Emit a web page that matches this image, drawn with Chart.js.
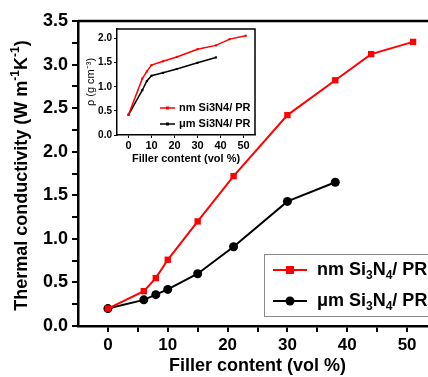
<!DOCTYPE html>
<html><head><meta charset="utf-8">
<script src="https://cdn.jsdelivr.net/npm/chart.js@4.4.0/dist/chart.umd.min.js"></script>
<style>
html,body{margin:0;padding:0;background:#fff;}
#wrap{position:relative;width:428px;height:377px;overflow:hidden;}
#main{position:absolute;left:0;top:0;}
#inset{position:absolute;left:84px;top:20px;}
</style></head>
<body>
<div id="wrap">
<canvas id="main" width="442" height="377"></canvas>
<canvas id="inset" width="176" height="146"></canvas>
</div>
<script>
// ---- data ----
const fillerNm = [0, 6, 8, 10, 15, 21, 30, 38, 44, 51];
const fillerUm = [0, 6, 8, 10, 15, 21, 30, 38];
const kNm = [0.20, 0.40, 0.55, 0.76, 1.20, 1.72, 2.42, 2.82, 3.12, 3.26];
const kUm = [0.20, 0.30, 0.36, 0.42, 0.60, 0.91, 1.43, 1.65];
const rhoNm = [0.42, 1.17, 1.32, 1.45, 1.53, 1.62, 1.78, 1.86, 1.99, 2.06];
const rhoUm = [0.42, 0.93, 1.12, 1.23, 1.29, 1.37, 1.50, 1.61];
const seriesNames = ['nm Si₃N₄/ PR', 'μm Si₃N₄/ PR'];
const xTickLabels = [0, 10, 20, 30, 40, 50];
const yTickLabels = [0, 0.5, 1.0, 1.5, 2.0, 2.5, 3.0, 3.5];
const insetYTicks = [0, 0.5, 1.0, 1.5, 2.0];

const pts = (xs, ys) => xs.map((x, i) => ({x: x, y: ys[i]}));
const F = 'Arial, "Liberation Sans", sans-serif';

function drawSubText(ctx, x, y, parts, size) {
  let cx = x;
  parts.forEach(([t, sub]) => {
    ctx.font = 'bold ' + (sub ? Math.round(size * 0.65) : size) + 'px ' + F;
    ctx.fillText(t, cx, sub ? y + size * 0.3 : y);
    cx += ctx.measureText(t).width;
  });
}

const mainPlugin = {
  id: 'mainDeco',
  afterDraw(chart) {
    const ctx = chart.ctx, a = chart.chartArea;
    ctx.save();
    ctx.strokeStyle = '#000'; ctx.lineWidth = 2.5;
    ctx.beginPath();
    ctx.moveTo(a.left, a.top); ctx.lineTo(a.right, a.top); ctx.lineTo(a.right, a.bottom);
    ctx.stroke();
    // y title with superscripts
    ctx.translate(22, (a.top + a.bottom) / 2 + 2);
    ctx.rotate(-Math.PI / 2);
    ctx.fillStyle = '#000'; ctx.textBaseline = 'middle';
    const parts = [['Thermal conductivity (W m', 0], ['-1', 1], ['K', 0], ['-1', 1], [')', 0]];
    let w = 0;
    parts.forEach(([t, s]) => { ctx.font = 'bold ' + (s ? 12 : 18) + 'px ' + F; w += ctx.measureText(t).width; });
    let cx = -w / 2;
    parts.forEach(([t, s]) => {
      ctx.font = 'bold ' + (s ? 12 : 18) + 'px ' + F;
      ctx.fillText(t, cx, s ? -6 : 0);
      cx += ctx.measureText(t).width;
    });
    ctx.restore();
    // legend
    ctx.save();
    ctx.strokeStyle = '#8a8a8a'; ctx.lineWidth = 1;
    ctx.strokeRect(264.5, 254.5, 200, 62);
    const rows = [{y: 270, ds: chart.data.datasets[0]}, {y: 301, ds: chart.data.datasets[1]}];
    rows.forEach((r, i) => {
      ctx.strokeStyle = r.ds.borderColor; ctx.lineWidth = 2;
      ctx.beginPath(); ctx.moveTo(273, r.y); ctx.lineTo(307, r.y); ctx.stroke();
      ctx.fillStyle = r.ds.borderColor;
      if (i === 0) { ctx.fillRect(286, r.y - 4, 8, 8); }
      else { ctx.beginPath(); ctx.arc(290, r.y, 4.5, 0, Math.PI * 2); ctx.fill(); }
      ctx.fillStyle = '#000'; ctx.textBaseline = 'middle';
      drawSubText(ctx, 317, r.y, [[i === 0 ? 'nm Si' : 'μm Si', 0], ['3', 1], ['N', 0], ['4', 1], ['/ PR', 0]], 18);
    });
    ctx.restore();
  }
};

new Chart(document.getElementById('main'), {
  type: 'line',
  data: {
    datasets: [
      {label: seriesNames[0], data: pts(fillerNm, kNm), borderColor: '#ff0000', backgroundColor: '#ff0000',
       borderWidth: 2, pointStyle: 'rect', pointRadius: 4.5, pointBorderWidth: 0},
      {label: seriesNames[1], data: pts(fillerUm, kUm), borderColor: '#000000', backgroundColor: '#000000',
       borderWidth: 2, pointStyle: 'circle', pointRadius: 4.5, pointBorderWidth: 0}
    ]
  },
  options: {
    responsive: false, animation: false,
    layout: {padding: {top: 21, right: 5, left: 0, bottom: 0}},
    plugins: {legend: {display: false}, tooltip: {enabled: false}},
    scales: {
      x: {
        type: 'linear', min: -5, max: 55,
        afterFit(s) { s.height = 51; },
        afterBuildTicks(s) { s.ticks = [0, 5, 10, 15, 20, 25, 30, 35, 40, 45, 50].map(v => ({value: v})); },
        border: {display: true, color: '#000', width: 2.5},
        grid: {drawOnChartArea: false, drawTicks: true, tickLength: 6, color: '#000', lineWidth: 2},
        ticks: {color: '#000', padding: 3, maxRotation: 0, autoSkip: false,
          font: {family: F, size: 17, weight: 'bold'},
          callback: v => xTickLabels.includes(v) ? String(v) : ''},
        title: {display: true, text: 'Filler content (vol %)', color: '#000', padding: {top: 3, bottom: 0},
          font: {family: F, size: 18, weight: 'bold'}}
      },
      y: {
        min: 0, max: 3.5,
        afterFit(s) { s.width = 78; },
        afterBuildTicks(s) { const t = []; for (let i = 0; i <= 14; i++) t.push({value: i * 0.25}); s.ticks = t; },
        border: {display: true, color: '#000', width: 2.5},
        grid: {drawOnChartArea: false, drawTicks: true, tickLength: 6, color: '#000', lineWidth: 2},
        ticks: {color: '#000', padding: 4, autoSkip: false,
          font: {family: F, size: 18, weight: 'bold'},
          callback: v => yTickLabels.some(l => Math.abs(l - v) < 1e-6) ? v.toFixed(1) : ''}
      }
    }
  },
  plugins: [mainPlugin]
});

const insetPlugin = {
  id: 'insetDeco',
  afterDraw(chart) {
    const ctx = chart.ctx, a = chart.chartArea;
    ctx.save();
    ctx.strokeStyle = '#000'; ctx.lineWidth = 1.5;
    ctx.beginPath();
    ctx.moveTo(a.left, a.top); ctx.lineTo(a.right, a.top); ctx.lineTo(a.right, a.bottom);
    ctx.stroke();
    const rows = [{y: 88, ds: chart.data.datasets[0]}, {y: 104, ds: chart.data.datasets[1]}];
    rows.forEach((r, i) => {
      ctx.strokeStyle = r.ds.borderColor; ctx.lineWidth = 1.5;
      ctx.beginPath(); ctx.moveTo(76, r.y); ctx.lineTo(91, r.y); ctx.stroke();
      ctx.fillStyle = r.ds.borderColor;
      ctx.fillRect(82, r.y - 1.5, 3, 3);
      ctx.fillStyle = '#000'; ctx.textBaseline = 'middle';
      drawSubText(ctx, 95, r.y, [[i === 0 ? 'nm Si' : 'μm Si', 0], ['3', 0], ['N', 0], ['4', 0], ['/ PR', 0]], 11);
    });
    ctx.restore();
  }
};

new Chart(document.getElementById('inset'), {
  type: 'line',
  data: {
    datasets: [
      {label: seriesNames[0], data: pts(fillerNm, rhoNm), borderColor: '#ff0000', backgroundColor: '#ff0000',
       borderWidth: 1.5, pointStyle: 'rect', pointRadius: 1.5, pointBorderWidth: 0},
      {label: seriesNames[1], data: pts(fillerUm, rhoUm), borderColor: '#000000', backgroundColor: '#000000',
       borderWidth: 1.5, pointStyle: 'rect', pointRadius: 1.5, pointBorderWidth: 0}
    ]
  },
  options: {
    responsive: false, animation: false,
    layout: {padding: {top: 9, right: 5, left: 0, bottom: 0}},
    plugins: {legend: {display: false}, tooltip: {enabled: false}},
    scales: {
      x: {
        type: 'linear', min: -5, max: 55,
        afterFit(s) { s.height = 31; },
        afterBuildTicks(s) { s.ticks = xTickLabels.map(v => ({value: v})); },
        border: {display: true, color: '#000', width: 1.5},
        grid: {drawOnChartArea: false, drawTicks: true, tickLength: 3, color: '#000', lineWidth: 1},
        ticks: {color: '#000', padding: 1, maxRotation: 0, autoSkip: false,
          font: {family: F, size: 11, weight: 'bold'}},
        title: {display: true, text: 'Filler content (vol %)', color: '#000', padding: {top: 0, bottom: 0},
          font: {family: F, size: 11, weight: 'bold'}}
      },
      y: {
        min: 0, max: 2.2,
        afterFit(s) { s.width = 33; },
        afterBuildTicks(s) { s.ticks = insetYTicks.map(v => ({value: v})); },
        border: {display: true, color: '#000', width: 1.5},
        grid: {drawOnChartArea: false, drawTicks: true, tickLength: 3, color: '#000', lineWidth: 1},
        ticks: {color: '#000', padding: 2, autoSkip: false,
          font: {family: F, size: 10, weight: 'bold'},
          callback: v => v.toFixed(1)},
        title: {display: true, text: 'ρ (g cm⁻³)', color: '#000', padding: 0,
          font: {family: F, size: 11, weight: 'normal'}}
      }
    }
  },
  plugins: [insetPlugin]
});
</script>
</body></html>
